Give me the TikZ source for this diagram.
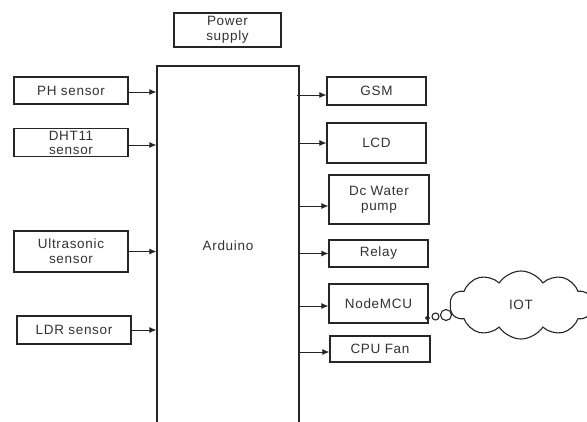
\documentclass[tikz,border=0pt]{standalone}
\usepackage{fontspec}
\setmainfont[LetterSpace=5]{Liberation Sans}
\usetikzlibrary{shapes.symbols,arrows.meta}
\definecolor{txt}{HTML}{333333}
\tikzset{
  blk/.style={draw=black!85, line width=1.3pt, rectangle, inner sep=0pt, align=center,
    text=txt, font=\fontsize{13.5}{15}\selectfont},
  conn/.style={draw=black!85, line width=0.8pt, -{Latex[length=7pt,width=6pt]}},
  bub/.style={draw=black!85, line width=1.1pt}
}
\begin{document}
\begin{tikzpicture}[x=1pt,y=-1pt]
\clip (0,0) rectangle (587,421);
\fill[white] (0,0) rectangle (587,421);
% power supply
\node[blk, minimum width=107, minimum height=34] (ps) at (227.5,30) {Power\\supply};
% Arduino
\node[blk, minimum width=142, minimum height=360] (ard) at (228,246) {Arduino};
% inputs
\node[blk, minimum width=114, minimum height=27] (ph) at (71,90.5) {PH sensor};
\node[blk, minimum width=114, minimum height=28, font=\fontsize{13.5}{14}\selectfont] (dht) at (71,142.5) {DHT11\\sensor};
\node[blk, minimum width=114, minimum height=41] (us) at (71,251.5) {Ultrasonic\\sensor};
\node[blk, minimum width=114, minimum height=28] (ldr) at (74,330) {LDR sensor};
% outputs
\node[blk, minimum width=99, minimum height=28] (gsm) at (376.5,91) {GSM};
\node[blk, minimum width=99, minimum height=40] (lcd) at (376.5,143) {LCD};
\node[blk, minimum width=100, minimum height=49] (pump) at (379,199.5) {Dc Water\\pump};
\node[blk, minimum width=99, minimum height=27] (relay) at (378.5,253.5) {Relay};
\node[blk, minimum width=99, minimum height=39] (mcu) at (378.5,303.5) {NodeMCU};
\node[blk, minimum width=100, minimum height=26] (fan) at (380,349) {CPU Fan};
% cloud
\node[cloud, cloud puffs=10, cloud puff arc=115, aspect=2.2, draw=black!85, line width=1.1pt,
  minimum width=142, minimum height=68, inner sep=0pt, text=txt,
  font=\fontsize{13.5}{15}\selectfont] (iot) at (521,305) {IOT};
\node[circle, bub, minimum size=11, inner sep=0pt] (b3) at (446,315) {};
\node[circle, bub, minimum size=7, inner sep=0pt] (b2) at (435.5,316.5) {};
\node[circle, bub, minimum size=3.5, inner sep=0pt] (b1) at (427.5,318) {};
% input connectors
\draw[conn] ([yshift=-1.5pt]ph.east) -- ([yshift=-1.5pt]ph.east -| ard.west);
\draw[conn] ([yshift=-2.5pt]dht.east) -- ([yshift=-2.5pt]dht.east -| ard.west);
\draw[conn] (us.east) -- (us.east -| ard.west);
\draw[conn] (ldr.east) -- (ldr.east -| ard.west);
% output connectors
\draw[conn] ([xshift=-3pt,yshift=-4pt]ard.east |- gsm.west) -- ([yshift=-4pt]gsm.west);
\draw[conn] (ard.east |- lcd.west) -- (lcd.west);
\draw[conn] ([yshift=-6.5pt]ard.east |- pump.west) -- ([yshift=-6.5pt]pump.west);
\draw[conn] (ard.east |- relay.west) -- (relay.west);
\draw[conn] ([yshift=-2.5pt]ard.east |- mcu.west) -- ([yshift=-2.5pt]mcu.west);
\draw[conn] ([yshift=-3pt]ard.east |- fan.west) -- ([yshift=-3pt]fan.west);
\end{tikzpicture}
\end{document}
